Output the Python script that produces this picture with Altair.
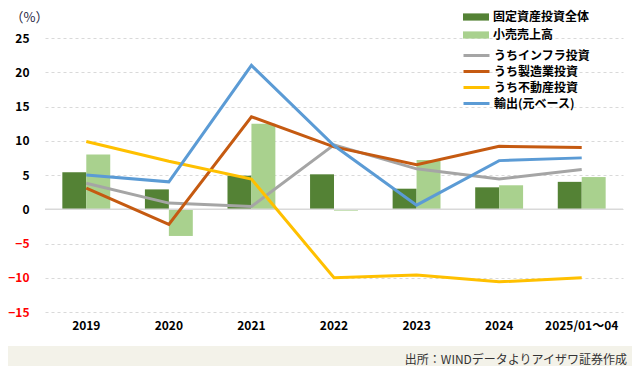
import altair as alt
import pandas as pd

years = ["2019", "2020", "2021", "2022", "2023", "2024", "2025/01～04"]
bar_names = ["固定資産投資全体", "小売売上高"]
fixed_invest = [5.4, 2.9, 4.9, 5.1, 3.0, 3.2, 4.0]
retail_sales = [8.0, -3.9, 12.5, -0.2, 7.2, 3.5, 4.7]
line_names = ["うちインフラ投資", "うち製造業投資", "うち不動産投資", "輸出(元ベース)"]
infra = [3.8, 0.9, 0.4, 9.4, 5.9, 4.4, 5.8]
manufacturing = [3.1, -2.2, 13.5, 9.1, 6.5, 9.2, 9.0]
real_estate = [9.9, 7.0, 4.4, -10.0, -9.6, -10.6, -10.0]
exports_cny = [5.0, 4.0, 21.0, 9.3, 0.6, 7.1, 7.5]
y_ticks = [-15, -10, -5, 0, 5, 10, 15, 20, 25]

bar_colors = ["#548235", "#A9D18E"]
line_colors = ["#A5A5A5", "#C55A11", "#FFC000", "#5B9BD5"]
FONT = "Noto Sans CJK JP"

bar_rows = []
for name, vals in zip(bar_names, [fixed_invest, retail_sales]):
    for y, v in zip(years, vals):
        bar_rows.append({"year": y, "series": name, "value": v, "order": bar_names.index(name)})
bar_df = pd.DataFrame(bar_rows)

line_rows = []
for name, vals in zip(line_names, [infra, manufacturing, real_estate, exports_cny]):
    for y, v in zip(years, vals):
        line_rows.append({"year": y, "series": name, "value": v})
line_df = pd.DataFrame(line_rows)

x_scale = alt.Scale(domain=years, paddingInner=0.42, paddingOuter=0.21)
y_scale = alt.Scale(domain=[-15, 25], nice=False, zero=False)

x_axis = alt.Axis(title=None, domain=False, ticks=False, labelAngle=0, labelOverlap=False,
                  labelFont=FONT, labelFontWeight="bold", labelFontSize=12,
                  labelColor="#000000", labelPadding=8, labelBaseline="top")
y_axis = alt.Axis(title="（%）", titleAngle=0, titleAlign="center", titleBaseline="middle",
                  titleX=-16, titleY=-21, titleFont=FONT, titleFontWeight="normal",
                  titleFontSize=13, titleColor="#1F1F3F",
                  values=y_ticks, domain=False, ticks=False, labelOverlap=False,
                  labelFont=FONT, labelFontWeight="bold", labelFontSize=12,
                  labelColor=alt.ExprRef(expr="datum.value < 0 ? '#FF0000' : '#000000'"),
                  labelPadding=16, grid=True, gridColor="#D9D9D9", gridDash=[3, 3],
                  gridWidth=1)

bars = alt.Chart(bar_df).mark_bar().encode(
    x=alt.X("year:N", scale=x_scale, sort=years, axis=x_axis),
    y=alt.Y("value:Q", scale=y_scale, axis=y_axis),
    xOffset=alt.XOffset("order:O"),
    color=alt.Color("series:N", scale=alt.Scale(domain=bar_names, range=bar_colors),
                    sort=bar_names,
                    legend=alt.Legend(title=None, orient="none", legendX=422, legendY=-30,
                                      symbolType="M-1.625,-0.45H1.625V0.45H-1.625Z",
                                      symbolSize=256, labelFont=FONT, labelFontSize=12,
                                      labelFontWeight="bold", labelColor="#000000",
                                      labelOffset=8, rowPadding=3, padding=0)),
)

zero_rule = alt.Chart(alt.Data(values=[{}])).mark_rule(color="#D9D9D9", strokeWidth=1.5).encode(
    y=alt.datum(0, scale=y_scale, axis=y_axis)
)

lines = alt.Chart(line_df).mark_line(strokeWidth=3).encode(
    x=alt.X("year:N", scale=x_scale, sort=years, axis=x_axis),
    y=alt.Y("value:Q", scale=y_scale, axis=y_axis),
    stroke=alt.Stroke("series:N", scale=alt.Scale(domain=line_names, range=line_colors),
                      sort=line_names,
                      legend=alt.Legend(title=None, orient="none", legendX=422, legendY=8,
                                        symbolType="M-1.625,0H1.625", symbolSize=256,
                                        symbolStrokeWidth=3, labelFont=FONT, labelFontSize=12,
                                        labelFontWeight="bold", labelColor="#000000",
                                        labelOffset=8, rowPadding=0, padding=0)),
    detail="series:N",
)

footer_band = alt.Chart(alt.Data(values=[{}])).mark_rect(color="#F3F2E9").encode(
    x=alt.value(-60), x2=alt.value(700), y=alt.value(308), y2=alt.value(400)
)
right_band = alt.Chart(alt.Data(values=[{}])).mark_rect(color="#F3F2E9").encode(
    x=alt.value(588), x2=alt.value(700), y=alt.value(-60), y2=alt.value(400)
)
footer = alt.Chart(alt.Data(values=[{"t": "出所：WINDデータよりアイザワ証券作成"}])).mark_text(
    align="right", baseline="middle", font=FONT, fontSize=12, color="#333333"
).encode(text="t:N", x=alt.value(582), y=alt.value(322))

chart = alt.layer(footer_band, right_band, bars, zero_rule, lines, footer).resolve_scale(
    color="independent", stroke="independent"
).properties(
    width=578, height=274,
    autosize=alt.AutoSizeParams(type="none"),
    padding={"left": 37, "top": 30, "right": 9, "bottom": 54},
    background="#FFFFFF",
).configure_view(stroke=None).configure_axis(labelOverlap=False)

chart.save("out.html", embed_options={"renderer": "svg", "actions": False})
